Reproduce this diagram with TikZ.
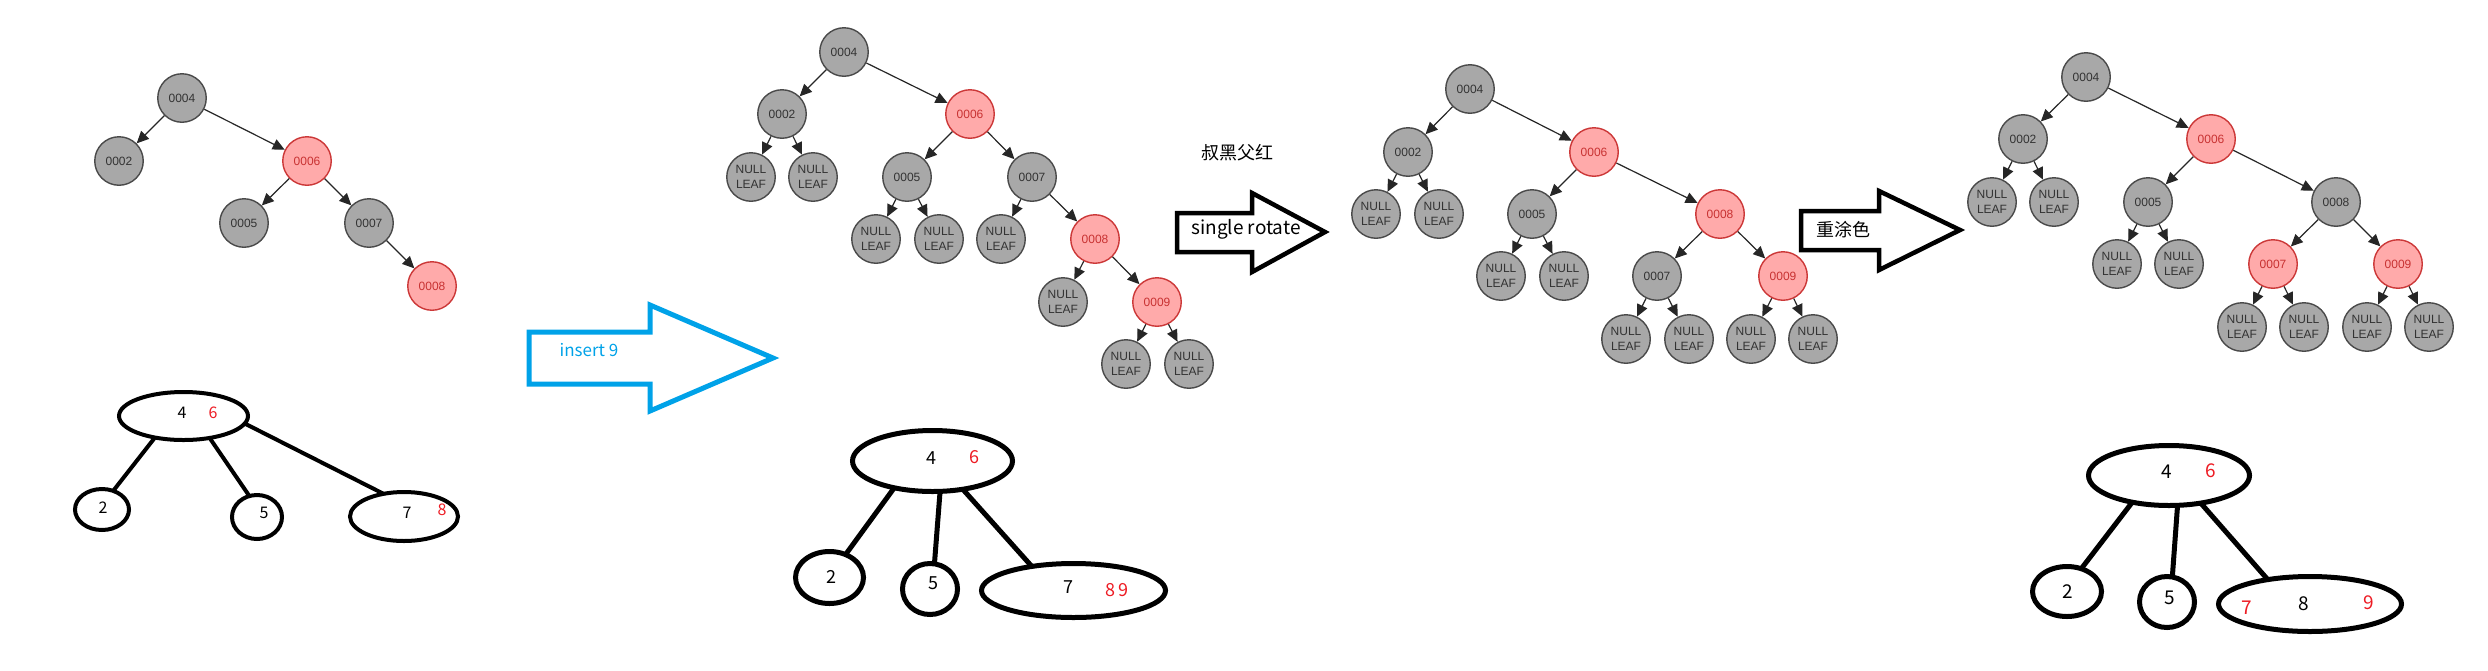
\documentclass[tikz,border=0pt]{standalone}
\usepackage{fontspec}
\setmainfont{Liberation Sans}
\newfontfamily\cjk{Noto Sans CJK SC}
\usetikzlibrary{arrows.meta,shapes.geometric}
\definecolor{nodegray}{HTML}{A8A8A8}
\definecolor{nodeborder}{HTML}{4A4A4A}
\definecolor{redfill}{HTML}{FFAAAA}
\definecolor{redborder}{HTML}{CC3838}
\definecolor{redtext}{HTML}{C83232}
\definecolor{painted}{HTML}{ED1C24}
\definecolor{paintblue}{HTML}{00A2E8}
\tikzset{
  bnode/.style={circle,draw=nodeborder,fill=nodegray,line width=1.4pt,minimum size=48.5pt,inner sep=0pt,
    text=black!80,font=\fontsize{12}{15}\selectfont,align=center},
  rnode/.style={bnode,draw=redborder,fill=redfill,text=redtext},
  edge/.style={draw=black!85,line width=1.2pt,-{Triangle[length=12pt,width=11pt]}},
  oval/.style={ellipse,draw,inner sep=0pt,outer sep=0pt},
  ovl/.style={line width=#1},
  hand/.style={font=\cjk\fontsize{#1}{#1}\selectfont,inner sep=0pt},
  bigarrow/.style={line width=4.5pt,line join=miter},
}
\newcommand{\nl}{NULL\\LEAF}
\begin{document}
\begin{tikzpicture}[x=1pt,y=-1pt]
\useasboundingbox (0,0) rectangle (2488,670);
% ---------------- Tree 1 ----------------
\node[bnode] (a4) at (182,98) {0004};
\node[bnode] (a2) at (119,161) {0002};
\node[rnode] (a6) at (307,161) {0006};
\node[bnode] (a5) at (244,223) {0005};
\node[bnode] (a7) at (369,223) {0007};
\node[rnode] (a8) at (432,286) {0008};
\draw[edge] (a4) -- (a2);
\draw[edge] (a4) -- (a6);
\draw[edge] (a6) -- (a5);
\draw[edge] (a6) -- (a7);
\draw[edge] (a7) -- (a8);
% 2-3-4 tree 1
\node[oval,ovl=4pt,minimum width=129pt,minimum height=48pt] (p1) at (183.5,416) {};
\node[oval,ovl=4pt,minimum width=54pt,minimum height=41pt] (p2) at (102,509.5) {};
\node[oval,ovl=4pt,minimum width=50pt,minimum height=44pt] (p5) at (257,517) {};
\node[oval,ovl=4pt,minimum width=108pt,minimum height=49pt] (p7) at (404,516.5) {};
\node[hand=16] (p1a) at (182,413) {4};
\node[hand=16,text=painted] (p1b) at (213,413) {6};
\node[hand=16] (p2a) at (103,508) {2};
\node[hand=16] (p5a) at (264,513) {5};
\node[hand=16] (p7a) at (407,513) {7};
\node[hand=16,text=painted] (p7b) at (442,510) {8};
\draw[line width=4pt] (p1.217) -- (p2.59);
\draw[line width=4pt] (p1.320) -- (p5.110);
\draw[line width=4pt] (p1.353) -- (p7.132);
% ---------------- insert 9 arrow ----------------
\draw[bigarrow,draw=paintblue,line width=5pt] (529,332) -- (650,332) -- (650,305) -- (773,358) -- (650,411) -- (650,384) -- (529,384) -- cycle;
\node[hand=17,text=paintblue] (ins) at (589,350) {insert 9};
% ---------------- Tree 2 ----------------
\node[bnode] (b4) at (844,52) {0004};
\node[bnode] (b2) at (782,114) {0002};
\node[rnode] (b6) at (970,114) {0006};
\node[bnode] (bna) at (751,177) {\nl};
\node[bnode] (bnb) at (813,177) {\nl};
\node[bnode] (b5) at (907,177) {0005};
\node[bnode] (b7) at (1032,177) {0007};
\node[bnode] (bnc) at (876,239) {\nl};
\node[bnode] (bnd) at (939,239) {\nl};
\node[bnode] (bne) at (1001,239) {\nl};
\node[rnode] (b8) at (1095,239) {0008};
\node[bnode] (bnf) at (1063,302) {\nl};
\node[rnode] (b9) at (1157,302) {0009};
\node[bnode] (bng) at (1126,364) {\nl};
\node[bnode] (bnh) at (1189,364) {\nl};
\draw[edge] (b4) -- (b2);
\draw[edge] (b4) -- (b6);
\draw[edge] (b2) -- (bna);
\draw[edge] (b2) -- (bnb);
\draw[edge] (b6) -- (b5);
\draw[edge] (b6) -- (b7);
\draw[edge] (b5) -- (bnc);
\draw[edge] (b5) -- (bnd);
\draw[edge] (b7) -- (bne);
\draw[edge] (b7) -- (b8);
\draw[edge] (b8) -- (bnf);
\draw[edge] (b8) -- (b9);
\draw[edge] (b9) -- (bng);
\draw[edge] (b9) -- (bnh);
% 2-3-4 tree 2
\node[oval,ovl=5pt,minimum width=160pt,minimum height=61pt] (q1) at (932.5,461) {};
\node[oval,ovl=5pt,minimum width=68pt,minimum height=52pt] (q2) at (829.5,577.5) {};
\node[oval,ovl=5pt,minimum width=55pt,minimum height=51pt] (q5) at (930,589) {};
\node[oval,ovl=5pt,minimum width=184pt,minimum height=54pt] (q7) at (1073.5,590.5) {};
\node[hand=18] (q1a) at (931,458) {4};
\node[hand=18,text=painted] (q1b) at (974,457) {6};
\node[hand=18] (q2a) at (831,577) {2};
\node[hand=18] (q5a) at (933,583) {5};
\node[hand=18] (q7a) at (1068,587) {7};
\node[hand=18,text=painted] (q7b) at (1117,590) {8\,9};
\draw[line width=5pt] (q1.215) -- (q2.55);
\draw[line width=5pt] (q1.284) -- (q5.80);
\draw[line width=5pt] (q1.317) -- (q7.150);
% ---------------- single rotate arrow ----------------
\node[hand=18] (uncle) at (1237,153) {叔黑父红};
\draw[bigarrow] (1177,213) -- (1252,213) -- (1252,193) -- (1325,232) -- (1252,272) -- (1252,252) -- (1177,252) -- cycle;
\node[hand=19] (rot) at (1246,229) {single rotate};
% ---------------- Tree 3 ----------------
\node[bnode] (c4) at (1470,89) {0004};
\node[bnode] (c2) at (1408,152) {0002};
\node[rnode] (c6) at (1594,152) {0006};
\node[bnode] (cna) at (1376,214) {\nl};
\node[bnode] (cnb) at (1439,214) {\nl};
\node[bnode] (c5) at (1532,214) {0005};
\node[rnode] (c8) at (1720,214) {0008};
\node[bnode] (cnc) at (1501,276) {\nl};
\node[bnode] (cnd) at (1564,276) {\nl};
\node[bnode] (c7) at (1657,276) {0007};
\node[rnode] (c9) at (1783,276) {0009};
\node[bnode] (cne) at (1626,339) {\nl};
\node[bnode] (cnf) at (1689,339) {\nl};
\node[bnode] (cng) at (1751,339) {\nl};
\node[bnode] (cnh) at (1813,339) {\nl};
\draw[edge] (c4) -- (c2);
\draw[edge] (c4) -- (c6);
\draw[edge] (c2) -- (cna);
\draw[edge] (c2) -- (cnb);
\draw[edge] (c6) -- (c5);
\draw[edge] (c6) -- (c8);
\draw[edge] (c5) -- (cnc);
\draw[edge] (c5) -- (cnd);
\draw[edge] (c8) -- (c7);
\draw[edge] (c8) -- (c9);
\draw[edge] (c7) -- (cne);
\draw[edge] (c7) -- (cnf);
\draw[edge] (c9) -- (cng);
\draw[edge] (c9) -- (cnh);
% ---------------- recolour arrow ----------------
\draw[bigarrow] (1801,211) -- (1879,211) -- (1879,191) -- (1960,230) -- (1879,270) -- (1879,250) -- (1801,250) -- cycle;
\node[hand=18] (recol) at (1843,230) {重涂色};
% ---------------- Tree 4 ----------------
\node[bnode] (d4) at (2086,77) {0004};
\node[bnode] (d2) at (2023,139) {0002};
\node[rnode] (d6) at (2211,139) {0006};
\node[bnode] (dna) at (1992,202) {\nl};
\node[bnode] (dnb) at (2054,202) {\nl};
\node[bnode] (d5) at (2148,202) {0005};
\node[bnode] (d8) at (2336,202) {0008};
\node[bnode] (dnc) at (2117,264) {\nl};
\node[bnode] (dnd) at (2179,264) {\nl};
\node[rnode] (d7) at (2273,264) {0007};
\node[rnode] (d9) at (2398,264) {0009};
\node[bnode] (dne) at (2242,327) {\nl};
\node[bnode] (dnf) at (2304,327) {\nl};
\node[bnode] (dng) at (2367,327) {\nl};
\node[bnode] (dnh) at (2429,327) {\nl};
\draw[edge] (d4) -- (d2);
\draw[edge] (d4) -- (d6);
\draw[edge] (d2) -- (dna);
\draw[edge] (d2) -- (dnb);
\draw[edge] (d6) -- (d5);
\draw[edge] (d6) -- (d8);
\draw[edge] (d5) -- (dnc);
\draw[edge] (d5) -- (dnd);
\draw[edge] (d8) -- (d7);
\draw[edge] (d8) -- (d9);
\draw[edge] (d7) -- (dne);
\draw[edge] (d7) -- (dnf);
\draw[edge] (d9) -- (dng);
\draw[edge] (d9) -- (dnh);
% 2-3-4 tree 4
\node[oval,ovl=5pt,minimum width=161pt,minimum height=60pt] (r1) at (2169,475.5) {};
\node[oval,ovl=5pt,minimum width=69pt,minimum height=50pt] (r2) at (2067,591.5) {};
\node[oval,ovl=5pt,minimum width=55pt,minimum height=51pt] (r5) at (2167,602) {};
\node[oval,ovl=5pt,minimum width=183pt,minimum height=55pt] (r7) at (2310,604) {};
\node[hand=19] (r1a) at (2167,472) {4};
\node[hand=19,text=painted] (r1b) at (2211,471) {6};
\node[hand=19] (r2a) at (2068,592) {2};
\node[hand=19] (r5a) at (2170,598) {5};
\node[hand=19,text=painted] (r7a) at (2247,608) {7};
\node[hand=19] (r7b) at (2304,604) {8};
\node[hand=19,text=painted] (r7c) at (2369,603) {9};
\draw[line width=5pt] (r1.216) -- (r2.58);
\draw[line width=5pt] (r1.286) -- (r5.78);
\draw[line width=5pt] (r1.319) -- (r7.150);
\end{tikzpicture}
\end{document}
